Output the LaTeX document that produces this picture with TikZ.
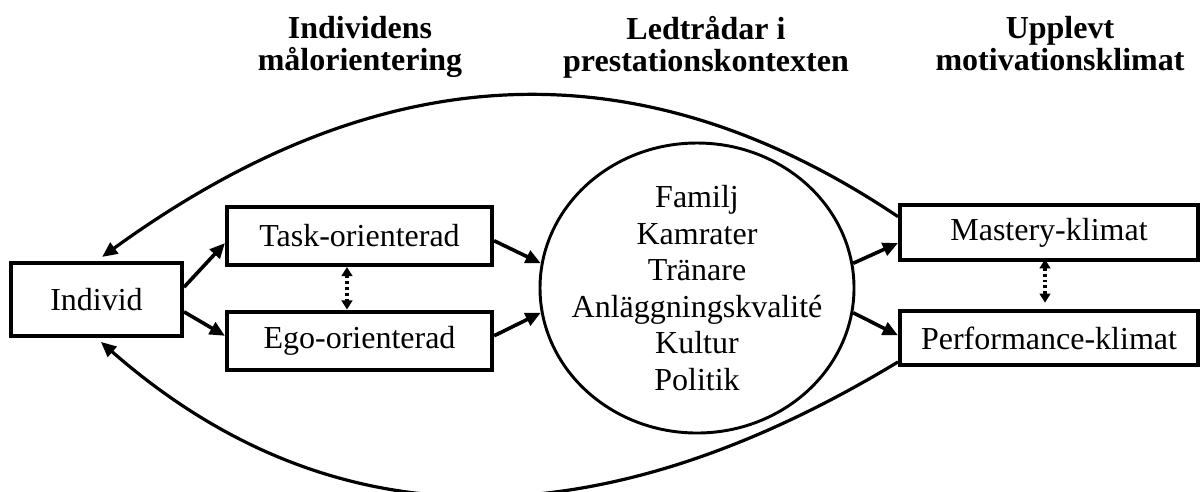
\documentclass[tikz,border=0pt]{standalone}
\usepackage{fontspec}
\setmainfont{Liberation Serif}
\usetikzlibrary{arrows.meta,shapes.geometric}

\tikzset{
  box/.style={draw,line width=1.5pt,inner sep=0pt,minimum height=21.75pt,font=\fontsize{12}{13.7}\selectfont},
  head/.style={anchor=north,align=center,inner sep=0pt,font=\fontsize{12}{12}\selectfont\bfseries},
  conn/.style={line width=1.35pt,-{Triangle[length=5.7pt,width=5pt]}},
  backarr/.style={line width=1.2pt,-{Triangle[length=5.7pt,width=5pt]}},
  dotconn/.style={line width=1.4pt,dash pattern=on 1.1pt off 1.1pt,{Triangle[length=3.4pt,width=4pt]}-{Triangle[length=3.4pt,width=4pt]}},
}

\begin{document}
\begin{tikzpicture}[x=0.375pt,y=0.375pt,yscale=-1,xscale=1]
\useasboundingbox (0,0) rectangle (1204,491);

% Text Node
\node [head] (hIndivid) at (360,16) {Individens\\målorientering};
% Text Node
\node [head] (hContext) at (706,16) {Ledtrådar i\\prestationskontexten};
% Text Node
\node [head] (hClimate) at (1060,16) {Upplevt\\motivationsklimat};

% Shape: Rectangle
\node [box,minimum width=64.1pt,minimum height=27.4pt] (Individ) at (96.5,299.5) {Individ};
% Shape: Rectangle
\node [box,minimum width=99.4pt] (Task) at (359.5,236) {Task-orienterad};
% Shape: Rectangle
\node [box,minimum width=99.4pt] (Ego) at (359.5,340.5) {Ego-orienterad};
% Shape: Ellipse
\node [draw,ellipse,line width=1.1pt,inner sep=0pt,minimum width=117.75pt,minimum height=108.75pt] (ctx) at (697,288) {};
% Text Node
\node [align=center,inner sep=0pt,font=\fontsize{12}{13.7}\selectfont] (ctxText) at (ctx.center)
  {Familj\\Kamrater\\Tränare\\Anläggningskvalité\\Kultur\\Politik};
% Shape: Rectangle
\node [box,minimum width=111.75pt,minimum height=20.6pt] (Mastery) at (1049,232.5) {Mastery-klimat};
% Shape: Rectangle
\node [box,minimum width=111.75pt,minimum height=20.6pt] (Perf) at (1049,338) {Performance-klimat};

% Connection
\draw [conn] (Individ.8) -- (Task.183);
% Connection
\draw [conn] (Individ.-8) -- (Ego.178);
% Connection
\draw [conn] (Task.-2) -- (ctx.171);
% Connection
\draw [conn] (Ego.2) -- (ctx.189);
% Connection
\draw [conn] (ctx.9) -- (Mastery.184);
% Connection
\draw [conn] (ctx.-9) -- (Perf.179);
% Connection
\draw [dotconn] ([xshift=-4.7pt]Task.south) -- ([xshift=-4.7pt]Ego.north);
% Connection
\draw [dotconn,shorten <=-1pt,shorten >=2.2pt] ([xshift=-1.5pt]Mastery.south) -- ([xshift=-1.5pt]Perf.north);
% Curve Lines
\draw [backarr,shorten >=2.6pt] (Mastery.174) .. controls (620,30) and (360,70) .. (Individ.north);
% Curve Lines
\draw [backarr,shorten >=2.2pt] (Perf.189) .. controls (625,527) and (350,560) .. (Individ.south);

\end{tikzpicture}
\end{document}
